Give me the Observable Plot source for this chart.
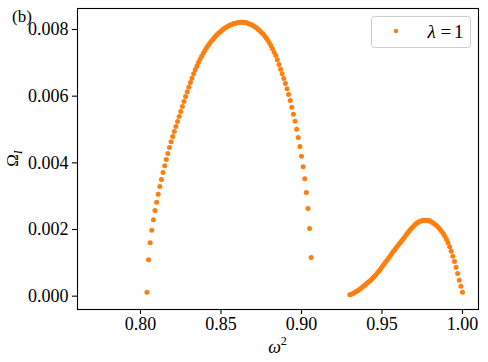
<!DOCTYPE html>
<html>
<head>
<meta charset="utf-8">
<script src="https://cdn.jsdelivr.net/npm/d3@7"></script>
<script src="https://cdn.jsdelivr.net/npm/@observablehq/plot@0.6"></script>
<style>
  html, body { margin: 0; padding: 0; background: #fff; }
  #chart { width: 488px; height: 362px; position: relative; }
  #chart svg, #chart svg text { font-family: "Liberation Serif", "Times New Roman", serif !important; }
</style>
</head>
<body>
<div id="chart"></div>
<script>
// ---- data ----
const omega2Arc1 = [
  0.804,0.805,0.806,0.807,0.808,0.809,0.810,0.811,0.812,0.813,0.814,0.815,0.816,0.817,0.818,0.819,
  0.820,0.821,0.822,0.823,0.824,0.825,0.826,0.827,0.828,0.829,0.830,0.831,0.832,0.833,0.834,0.835,
  0.836,0.837,0.838,0.839,0.840,0.841,0.842,0.843,0.844,0.845,0.846,0.847,0.848,0.849,0.850,0.851,
  0.852,0.853,0.854,0.855,0.856,0.857,0.858,0.859,0.860,0.861,0.862,0.863,0.864,0.865,0.866,0.867,
  0.868,0.869,0.870,0.871,0.872,0.873,0.874,0.875,0.876,0.877,0.878,0.879,0.880,0.881,0.882,0.883,
  0.884,0.885,0.886,0.887,0.888,0.889,0.890,0.891,0.892,0.893,0.894,0.895,0.896,0.897,0.898,0.899,
  0.900,0.901,0.902,0.903,0.904,0.905,0.906
];
const omegaIArc1 = [
  0.00012,0.00109,0.00160,0.00198,0.00229,0.00257,0.00282,0.00306,0.00329,0.00350,0.00371,0.00391,0.00410,0.00428,0.00446,0.00463,
  0.00479,0.00494,0.00509,0.00524,0.00539,0.00554,0.00569,0.00584,0.00599,0.00613,0.00627,0.00641,0.00654,0.00667,0.00679,0.00690,
  0.00701,0.00711,0.00720,0.00729,0.00737,0.00745,0.00752,0.00759,0.00765,0.00771,0.00777,0.00782,0.00787,0.00791,0.00795,0.00799,
  0.00803,0.00806,0.00809,0.00812,0.00814,0.00816,0.00818,0.00819,0.00820,0.00821,0.00822,0.00822,0.00822,0.00821,0.00820,0.00818,
  0.00816,0.00814,0.00811,0.00808,0.00805,0.00801,0.00797,0.00792,0.00787,0.00781,0.00775,0.00768,0.00760,0.00751,0.00742,0.00732,
  0.00722,0.00709,0.00695,0.00681,0.00667,0.00653,0.00638,0.00622,0.00605,0.00587,0.00567,0.00546,0.00525,0.00501,0.00476,0.00449,
  0.00420,0.00388,0.00352,0.00311,0.00263,0.00203,0.00116
];
const omega2Arc2 = [
  0.930,0.931,0.932,0.933,0.934,0.935,0.936,0.937,0.938,0.939,0.940,0.941,0.942,0.943,0.944,0.945,
  0.946,0.947,0.948,0.949,0.950,0.951,0.952,0.953,0.954,0.955,0.956,0.957,0.958,0.959,0.960,0.961,
  0.962,0.963,0.964,0.965,0.966,0.967,0.968,0.969,0.970,0.971,0.972,0.973,0.974,0.975,0.976,0.977,
  0.978,0.979,0.980,0.981,0.982,0.983,0.984,0.985,0.986,0.987,0.988,0.989,0.990,0.991,0.992,0.993,
  0.994,0.995,0.996,0.997,0.998,0.999,1.000
];
const omegaIArc2 = [
  0.00004,0.00006,0.00008,0.00011,0.00014,0.00017,0.00020,0.00024,0.00028,0.00032,0.00036,0.00040,0.00044,0.00048,0.00053,0.00058,
  0.00063,0.00069,0.00075,0.00081,0.00088,0.00094,0.00101,0.00107,0.00114,0.00120,0.00127,0.00134,0.00140,0.00147,0.00153,0.00159,
  0.00165,0.00171,0.00177,0.00184,0.00190,0.00196,0.00202,0.00207,0.00212,0.00217,0.00220,0.00223,0.00225,0.00227,0.00228,0.00228,
  0.00228,0.00227,0.00225,0.00222,0.00219,0.00215,0.00211,0.00206,0.00201,0.00195,0.00188,0.00180,0.00171,0.00160,0.00148,0.00135,
  0.00120,0.00104,0.00087,0.00068,0.00048,0.00030,0.00012
];
const xTicks = [0.80, 0.85, 0.90, 0.95, 1.00];
const yTicks = [0.000, 0.002, 0.004, 0.006, 0.008];
const seriesLabel = ["λ", "=", "1"];

// ---- build table ----
const points = [
  ...omega2Arc1.map((x, i) => ({x, y: omegaIArc1[i]})),
  ...omega2Arc2.map((x, i) => ({x, y: omegaIArc2[i]}))
];

const W = 488, H = 362;
const mL = 77, mR = 10, mT = 8, mB = 53;
const orange = "#ff7f0e";
const fs = 18;

const plot = Plot.plot({
  width: W, height: H,
  marginLeft: mL, marginRight: mR, marginTop: mT, marginBottom: mB,
  style: {fontSize: fs + "px", color: "black", background: "white"},
  x: {domain: [0.76087, 1.00994], label: null},
  y: {domain: [-0.0004, 0.00863], label: null},
  marks: [
    Plot.dot(points, {x: "x", y: "y", r: 2.5, fill: orange, stroke: "none"}),
    Plot.frame({stroke: "black", strokeWidth: 1.1}),
    Plot.axisX({ticks: xTicks, tickFormat: d3.format(".2f"), tickSize: 5, tickPadding: 3,
                fontSize: fs, label: null, strokeWidth: 1.1}),
    Plot.axisY({ticks: yTicks, tickFormat: d3.format(".3f"), tickSize: 5, tickPadding: 4,
                fontSize: fs, label: null, strokeWidth: 1.1})
  ]
});

const svg = d3.select(plot);

// panel label
svg.append("text").attr("x", 12).attr("y", 22).attr("text-anchor", "start")
  .attr("font-size", 17).attr("fill", "black").text("(b)");

// y label Ω_I
const yl = svg.append("text")
  .attr("transform", `translate(18,${(mT + (H - mB)) / 2}) rotate(-90)`)
  .attr("text-anchor", "middle").attr("font-size", 17).attr("fill", "black");
yl.append("tspan").text("Ω");
yl.append("tspan").attr("font-style", "italic").attr("font-size", 12).attr("dy", 4).text("I");

// x label ω²
const xl = svg.append("text")
  .attr("x", (mL + (W - mR)) / 2).attr("y", 353)
  .attr("text-anchor", "middle").attr("font-size", 18).attr("fill", "black");
xl.append("tspan").attr("font-style", "italic").text("ω");
xl.append("tspan").attr("font-size", 12).attr("dy", -8).text("2");

// legend
const lg = svg.append("g");
lg.append("rect").attr("x", 371.5).attr("y", 16.5).attr("width", 99).attr("height", 31)
  .attr("rx", 3).attr("fill", "white").attr("fill-opacity", 0.8)
  .attr("stroke", "#cccccc").attr("stroke-width", 1);
lg.append("circle").attr("cx", 396).attr("cy", 31).attr("r", 2.2).attr("fill", orange);
const legendParts = [
  {t: seriesLabel[0], x: 427.5, italic: true},
  {t: seriesLabel[1], x: 440.5, italic: false},
  {t: seriesLabel[2], x: 454, italic: false}
];
for (const p of legendParts) {
  lg.append("text").attr("x", p.x).attr("y", 37.5).attr("text-anchor", "start")
    .attr("font-size", 19).attr("font-style", p.italic ? "italic" : "normal")
    .attr("fill", "black").text(p.t);
}

document.getElementById("chart").appendChild(plot);
</script>
</body>
</html>
